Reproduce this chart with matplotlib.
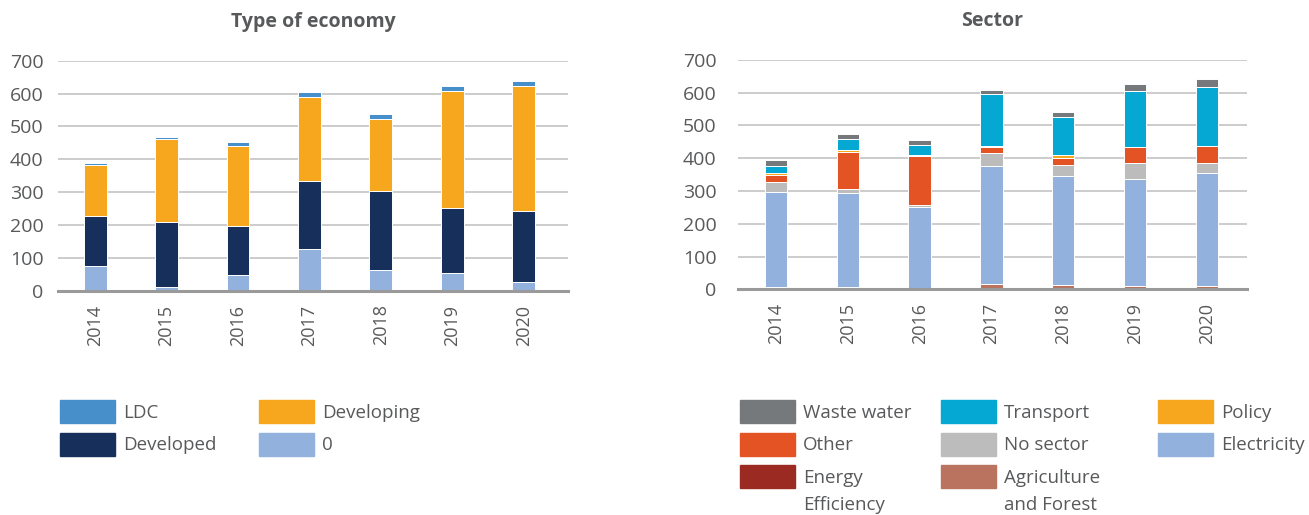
import matplotlib.pyplot as plt
from matplotlib.patches import Rectangle
import numpy as np

plt.rcParams['font.family'] = ['Open Sans', 'DejaVu Sans']

years = ['2014', '2015', '2016', '2017', '2018', '2019', '2020']

# Type of economy (stacked bottom -> top)
econ_zero = [75, 10, 47, 128, 63, 55, 26]
econ_developed = [153, 198, 150, 206, 242, 198, 218]
econ_developing = [156, 253, 244, 256, 217, 354, 380]
econ_ldc = [6, 8, 11, 16, 16, 16, 15]

# Sector (stacked bottom -> top)
sec_agri = [6, 6, 5, 17, 13, 10, 10]
sec_energy_eff = [0, 0, 0, 0, 0, 0, 0]
sec_electricity = [290, 289, 245, 359, 334, 325, 346]
sec_no_sector = [31, 12, 8, 41, 32, 49, 28]
sec_other = [23, 113, 148, 16, 20, 49, 54]
sec_policy = [4, 5, 4, 5, 11, 0, 0]
sec_transport = [23, 32, 31, 157, 116, 171, 178]
sec_waste = [16, 17, 14, 14, 14, 21, 24]

TXT = '#58595b'
GRID = '#c4c4c4'
BASE = '#9a9a9a'
W, H = 1309, 515

econ_series = [
    ('0', econ_zero, '#92b1dc'),
    ('Developed', econ_developed, '#17305b'),
    ('Developing', econ_developing, '#f7a71e'),
    ('LDC', econ_ldc, '#468fcb'),
]
sector_series = [
    ('Agriculture\nand Forest', sec_agri, '#b9735e'),
    ('Energy\nEfficiency', sec_energy_eff, '#9b2b22'),
    ('Electricity', sec_electricity, '#92b1dc'),
    ('No sector', sec_no_sector, '#bcbcbc'),
    ('Other', sec_other, '#e35323'),
    ('Policy', sec_policy, '#f7a71e'),
    ('Transport', sec_transport, '#04a8d2'),
    ('Waste water', sec_waste, '#76797c'),
]


def stacked(ax, series, width, ypad):
    x = np.arange(len(years))
    bottom = np.zeros(len(years))
    for name, vals, col in series:
        ax.bar(x, vals, width, bottom=bottom, color=col, edgecolor='white',
               linewidth=0.7, label=name, zorder=3)
        bottom += np.array(vals)
    ax.set_xticks(x)
    ax.set_xticklabels(years, rotation=90, fontsize=13, color=TXT)
    ax.set_ylim(0, 700)
    ax.set_yticks(range(0, 701, 100))
    ax.tick_params(axis='y', labelsize=14, labelcolor=TXT, length=0, pad=ypad)
    ax.tick_params(axis='x', length=0, pad=10)
    ax.grid(axis='y', color=GRID, linewidth=1.2, zorder=0)
    for s in ['top', 'right', 'left']:
        ax.spines[s].set_visible(False)
    ax.spines['bottom'].set_color(BASE)
    ax.spines['bottom'].set_linewidth(2.2)
    ax.spines['bottom'].set_zorder(4)


# legend drawn by hand: patch x and row given in pixels
def legend_entry(fig, label, color, px, row):
    top = 400 + row * 32.5
    fig.add_artist(Rectangle((px / W, 1 - (top + 23) / H), 55 / W, 23 / H,
                             transform=fig.transFigure, color=color))
    for i, line in enumerate(label.split('\n')):
        yb = top + 18 + i * 27
        fig.text((px + 63) / W, 1 - yb / H, line, fontsize=13.5, color=TXT,
                 va='baseline', ha='left')


fig = plt.figure(figsize=(13.09, 5.15), dpi=100)

ax1 = fig.add_axes([58 / W, 0.4355, 510 / W, 0.4466])
stacked(ax1, econ_series, 0.32, 10.5)
ax1.set_xlim(-0.52, 6.62)
ax1.set_title('Type of economy', fontsize=14, fontweight='bold', color=TXT, pad=24)

ax2 = fig.add_axes([738 / W, 0.4382, 509 / W, 0.4458])
stacked(ax2, sector_series, 0.313, 15.5)
ax2.set_xlim(-0.53, 6.56)
ax2.set_title('Sector', fontsize=14, fontweight='bold', color=TXT, pad=24)

econ_colors = {n: c for n, v, c in econ_series}
sector_colors = {n: c for n, v, c in sector_series}

for name, px, row in [('LDC', 60, 0), ('Developed', 60, 1),
                      ('Developing', 259, 0), ('0', 259, 1)]:
    legend_entry(fig, name, econ_colors[name], px, row)

for name, px, row in [('Waste water', 740, 0), ('Other', 740, 1),
                      ('Energy\nEfficiency', 740, 2),
                      ('Transport', 941, 0), ('No sector', 941, 1),
                      ('Agriculture\nand Forest', 941, 2),
                      ('Policy', 1158, 0), ('Electricity', 1158, 1)]:
    legend_entry(fig, name, sector_colors[name], px, row)

fig.savefig('out.png', dpi=100)
